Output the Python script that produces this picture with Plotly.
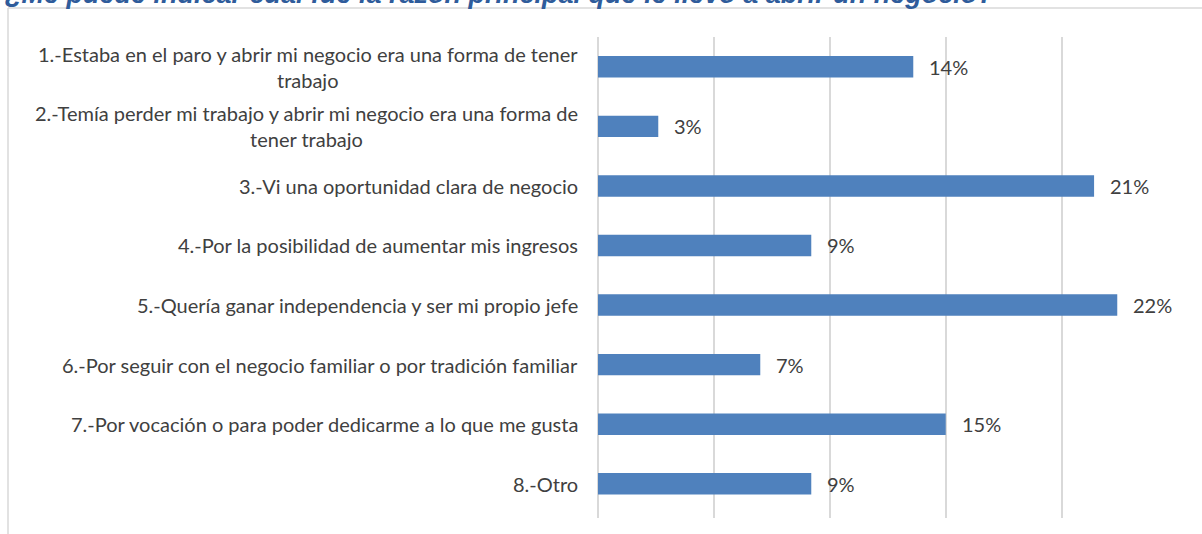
import plotly.graph_objects as go

categories = [
    "1.-Estaba en el paro y abrir mi negocio era una forma de tener<br>trabajo",
    "2.-Temía perder mi trabajo y abrir mi negocio era una forma de<br>tener trabajo",
    "3.-Vi una oportunidad clara de negocio",
    "4.-Por la posibilidad de aumentar mis ingresos",
    "5.-Quería ganar independencia y ser mi propio jefe",
    "6.-Por seguir con el negocio familiar o por tradición familiar",
    "7.-Por vocación o para poder dedicarme a lo que me gusta",
    "8.-Otro",
]
values = [0.136, 0.026, 0.214, 0.092, 0.224, 0.070, 0.150, 0.092]
title_text = "¿Me puede indicar cuál fue la razón principal que le llevó a abrir un negocio?"

W, H = 1202, 534
L, R, T, B = 598, 24, 37, 16
pw, ph = W - L - R, H - T - B


def px_x(px):
    return (px - L) / pw


def px_y(py):
    return (H - B - py) / ph


fig = go.Figure(
    go.Bar(
        x=values,
        y=categories,
        orientation="h",
        marker=dict(color="#4F81BD", line=dict(width=0)),
        hoverinfo="skip",
    )
)

annotations = []
label_font = dict(family="Lato, Open Sans, sans-serif", size=20, color="#404040")
for cat in categories:
    annotations.append(dict(
        x=px_x(L - 18), xref="paper", y=cat, yref="y",
        text=cat, showarrow=False, xanchor="right", yanchor="middle",
        align="center", font=label_font,
    ))
for cat, v in zip(categories, values):
    annotations.append(dict(
        x=v, xref="x", y=cat, yref="y",
        text=f"{v:.0%}", showarrow=False, xanchor="left", yanchor="middle",
        xshift=14, font=dict(family="Lato, Open Sans, sans-serif", size=20, color="#404040"),
    ))
annotations.append(dict(
    x=px_x(3), xref="paper", y=px_y(11), yref="paper",
    text=f"<b><i>{title_text}</i></b>", showarrow=False,
    xanchor="left", yanchor="bottom",
    font=dict(family="Liberation Sans, Arial, sans-serif", size=27, color="#2F5C9B"),
))

shapes = [
    dict(type="line", xref="paper", yref="paper",
         x0=px_x(8), x1=px_x(W + 10), y0=px_y(8), y1=px_y(8),
         line=dict(color="#D9D9D9", width=1.5)),
    dict(type="line", xref="paper", yref="paper",
         x0=px_x(8), x1=px_x(8), y0=px_y(8), y1=px_y(H + 10),
         line=dict(color="#D9D9D9", width=1.5)),
]

fig.update_layout(
    width=W, height=H,
    margin=dict(l=L, r=R, t=T, b=B),
    paper_bgcolor="white", plot_bgcolor="white",
    bargap=0.64,
    showlegend=False,
    annotations=annotations,
    shapes=shapes,
    xaxis=dict(range=[0, 0.2502], dtick=0.05, tick0=0, showticklabels=False,
               showgrid=True, gridcolor="#D9D9D9", gridwidth=2,
               zeroline=True, zerolinecolor="#D9D9D9", zerolinewidth=2,
               showline=False, fixedrange=True),
    yaxis=dict(categoryorder="array", categoryarray=categories,
               range=[7.575, -0.5], showticklabels=False, showgrid=False,
               zeroline=False, showline=False, fixedrange=True),
)

fig.write_html("out.html", config={"displayModeBar": False},
               post_script="document.body.style.margin='0';")
